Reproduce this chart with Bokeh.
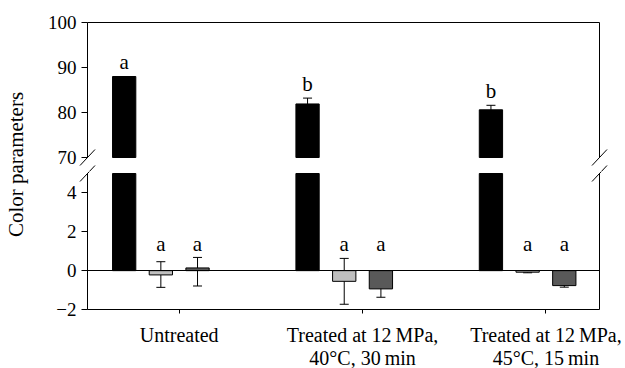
from bokeh.plotting import figure
from bokeh.layouts import row, column
from bokeh.models import (Range1d, FixedTicker, Whisker, TeeHead,
                          ColumnDataSource, Arrow, LinearAxis)
from bokeh.embed import file_html
from bokeh.resources import INLINE
from bokeh.core.properties import value

# ---------------- data ----------------
groups = ["Untreated",
          "Treated at 12\u2009MPa,\n40\u00b0C, 30\u2009min",
          "Treated at 12\u2009MPa,\n45\u00b0C, 15\u2009min"]
group_pos = [1, 2, 3]

s1_mean = [88.0, 81.9, 80.6]
s1_low = [88.0, 80.6, 79.6]
s1_high = [88.0, 83.2, 81.6]
s1_letters = ["a", "b", "b"]

s2_mean = [-0.22, -0.55, -0.08]
s2_low = [-0.86, -1.73, -0.11]
s2_high = [0.46, 0.63, -0.05]
s2_letters = ["a", "a", "a"]

s3_mean = [0.14, -0.94, -0.77]
s3_low = [-0.79, -1.37, -0.85]
s3_high = [0.68, -0.48, -0.70]
s3_letters = ["a", "a", "a"]

upper_ticks = [70, 80, 90, 100]
lower_ticks = [-2, 0, 2, 4]
upper_range = (70, 100)
lower_range = (-2, 5)
x_bounds = (0.5, 3.292)

# ---------------- style / layout ----------------
FONT = "Liberation Serif"
TICK_FS = "19px"
LETTER_FS = "21px"
XLAB_FS = "20px"
BAR_W = 0.127
OFFSETS = [-0.3, -0.1, 0.1]
COLORS = ["#000000", "#bfbfbf", "#595959"]
SMALL_LETTER_Y = 1.37      # height of the letters over the small bars
LETTER_GAP_PX = 14.5       # letter above error-bar top (big bars)

YLAB_W = 36
W_MAIN = 625 - YLAB_W
AX_LEFT = 87 - YLAB_W      # px from panel's left edge to the y axis
AX_PX = 512                # px between the left axis and the right border
UX = (x_bounds[1] - x_bounds[0]) / AX_PX
xr = Range1d(x_bounds[0] - AX_LEFT * UX, x_bounds[1] + (W_MAIN - AX_LEFT - AX_PX) * UX)

TOP_H = 171                # upper panel: 100 at 22px, 70 at 157px
TOP_Y100, TOP_AX = 22, 135
BOT_H = 368 - TOP_H        # lower panel: 5 at 173px, -2 at 309px
BOT_Y5, BOT_AX = 173 - TOP_H, 136
GAP_PX = 16                # distance between 70 and 5

series = [
    (s1_mean, s1_low, s1_high, s1_letters),
    (s2_mean, s2_low, s2_high, s2_letters),
    (s3_mean, s3_low, s3_high, s3_letters),
]


def plain_axis(loc, bounds):
    return LinearAxis(ticker=FixedTicker(ticks=[]), bounds=bounds, fixed_location=loc,
                      major_label_standoff=0, axis_line_color="black",
                      major_tick_line_color=None, minor_tick_line_color=None)


def style_y(ax, ticks, bounds):
    ax.ticker = FixedTicker(ticks=ticks)
    ax.bounds = bounds
    ax.fixed_location = x_bounds[0]
    ax.major_label_overrides = {t: (("\u2212" + str(-t)) if t < 0 else str(t)) for t in ticks}
    ax.minor_tick_line_color = None
    ax.major_tick_in = 0
    ax.major_tick_out = 6
    ax.major_label_standoff = 5
    ax.major_label_text_font = FONT
    ax.major_label_text_font_size = TICK_FS
    ax.major_label_text_color = "black"
    ax.axis_line_color = "black"
    ax.major_tick_line_color = "black"


def panel(is_lower):
    yr = lower_range if is_lower else upper_range
    if is_lower:
        px_y = (yr[1] - yr[0]) / BOT_AX
        y_range = Range1d(yr[0] - (BOT_H - BOT_Y5 - BOT_AX) * px_y, yr[1] + BOT_Y5 * px_y)
        h = BOT_H
    else:
        px_y = (yr[1] - yr[0]) / TOP_AX
        y_range = Range1d(yr[0] - (TOP_H - TOP_Y100 - TOP_AX) * px_y, yr[1] + TOP_Y100 * px_y)
        h = TOP_H
    p = figure(width=W_MAIN, height=h, x_range=xr, y_range=y_range,
               toolbar_location=None, output_backend="svg",
               min_border_left=0, min_border_right=0,
               min_border_top=0, min_border_bottom=0,
               outline_line_color=None)
    p.grid.visible = False
    style_y(p.yaxis[0], lower_ticks if is_lower else upper_ticks, yr)

    xax = p.xaxis[0]
    if is_lower:
        xax.ticker = FixedTicker(ticks=group_pos)
        xax.bounds = x_bounds
        xax.fixed_location = yr[0]
        xax.major_label_overrides = {g: lab for g, lab in zip(group_pos, groups)}
        xax.minor_tick_line_color = None
        xax.major_tick_in = 0
        xax.major_tick_out = 4
        xax.major_label_standoff = 10
        xax.major_label_text_font = FONT
        xax.major_label_text_font_size = XLAB_FS
        xax.major_label_text_line_height = 1.05
        xax.major_label_text_color = "black"
        xax.axis_line_color = "black"
        xax.major_tick_line_color = "black"
        p.add_layout(plain_axis(0, x_bounds), "below")          # zero line
    else:
        xax.visible = False
        p.add_layout(plain_axis(yr[1], x_bounds), "above")      # top border
    p.add_layout(plain_axis(x_bounds[1], yr), "right")          # right border

    for k, ((mean, lo, hi, letters), off, col) in enumerate(zip(series, OFFSETS, COLORS)):
        big = (k == 0)
        if not big and not is_lower:
            continue
        xs = [g + off for g in group_pos]
        if is_lower:
            tops = [min(m, yr[1]) for m in mean]
            bottoms = [0] * len(xs)
        else:
            tops = mean
            bottoms = [yr[0]] * len(xs)
        src = ColumnDataSource(dict(x=xs, top=tops, bottom=bottoms, lo=lo, hi=hi))
        p.vbar(x="x", top="top", bottom="bottom", width=BAR_W, source=src,
               fill_color=col, line_color="black", line_width=1)
        if big and is_lower:
            continue
        p.add_layout(Whisker(base="x", lower="lo", upper="hi", source=src,
                             line_color="black", line_width=1,
                             upper_head=TeeHead(size=9, line_color="black", line_width=1),
                             lower_head=TeeHead(size=9, line_color="black", line_width=1)))
        if big:
            ly = [hh + LETTER_GAP_PX * px_y for hh in hi]
        else:
            ly = [SMALL_LETTER_Y] * len(xs)
        lsrc = ColumnDataSource(dict(x=xs, y=ly, lab=letters))
        p.text(x="x", y="y", text="lab", source=lsrc, text_align="center",
               text_baseline="alphabetic",
               text_font=value(FONT), text_font_size=LETTER_FS, text_color="black")

    # break marks: a pair on each side, drawn in both panels (each keeps its part)
    dx = 7.5 * UX
    dy = 8 * px_y
    if is_lower:
        centers = [yr[1], yr[1] + GAP_PX * px_y]
    else:
        centers = [yr[0], yr[0] - GAP_PX * px_y]
    for yb in centers:
        for xb in x_bounds:
            p.add_layout(Arrow(x_start=xb - dx, y_start=yb - dy, x_end=xb + dx, y_end=yb + dy,
                               end=None, line_color="black", line_width=1))
    return p


top = panel(False)
bot = panel(True)

ylab = figure(width=YLAB_W, height=368, x_range=Range1d(0, 1), y_range=Range1d(0, 1),
              toolbar_location=None, output_backend="svg",
              min_border_left=26, min_border_right=0, min_border_top=8,
              min_border_bottom=48, outline_line_color=None)
ylab.grid.visible = False
ylab.xaxis.visible = False
ya = ylab.yaxis[0]
ya.ticker = FixedTicker(ticks=[])
ya.axis_line_color = None
ya.major_tick_line_color = None
ya.minor_tick_line_color = None
ya.major_label_standoff = 0
ya.axis_label = "Color parameters"
ya.axis_label_standoff = 0
ya.axis_label_text_font = FONT
ya.axis_label_text_font_size = "21px"
ya.axis_label_text_font_style = "normal"
ya.axis_label_text_color = "black"

layout = row(ylab, column(top, bot, spacing=0), spacing=0)
open("out.html", "w").write(file_html(layout, INLINE))
